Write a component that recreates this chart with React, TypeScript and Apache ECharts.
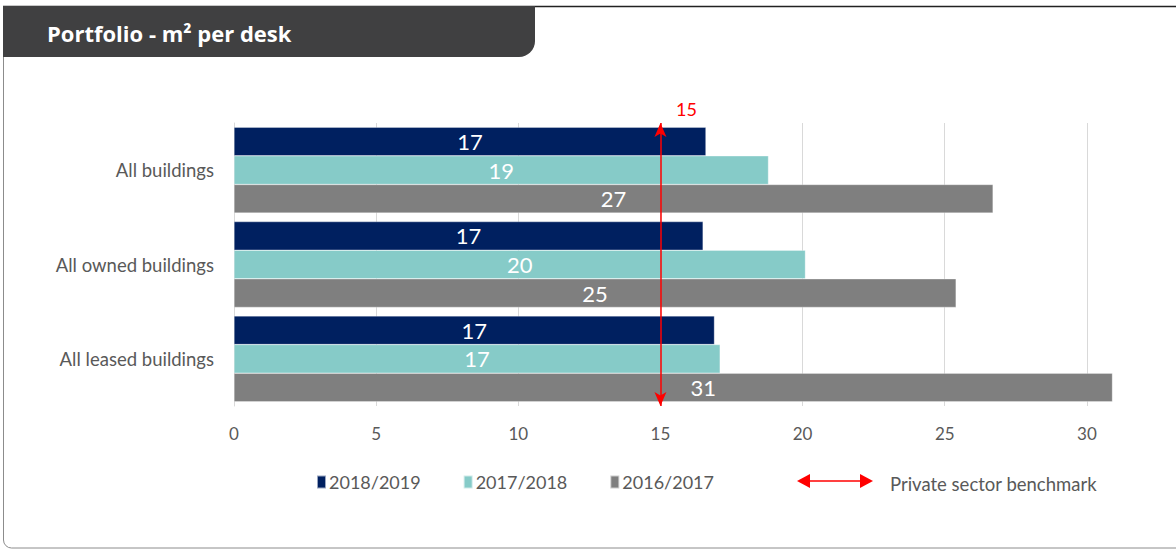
import React, { useEffect, useRef } from "react";
import * as echarts from "echarts";

const categories = ["All buildings", "All owned buildings", "All leased buildings"];
const seriesNames = ["2018/2019", "2017/2018", "2016/2017"];
const values2018_2019 = [16.6, 16.5, 16.9];
const values2017_2018 = [18.8, 20.1, 17.1];
const values2016_2017 = [26.7, 25.4, 30.9];
const seriesColors = ["#002060", "#86CBC8", "#7F7F7F"];
const benchmark = 15;
const title = "Portfolio - m\u00B2 per desk";
const benchmarkLabel = "Private sector benchmark";

const FONT = "Lato, 'Open Sans', sans-serif";

export default function App() {
  const ref = useRef<HTMLDivElement>(null);
  useEffect(() => {
    if (!ref.current) return;
    const chart = echarts.init(ref.current, undefined, { renderer: "svg" });
    const allValues = [values2018_2019, values2017_2018, values2016_2017];
    const series: any[] = allValues.map((vals, i) => ({
      name: seriesNames[i],
      type: "bar",
      data: vals.map((v, j) =>
        i === 2 && j === 2 ? { value: v, label: { offset: [30, 0] } } : v
      ),
      barGap: "0%",
      barCategoryGap: "9%",
      itemStyle: { color: seriesColors[i], borderColor: "rgba(255,255,255,0.6)", borderWidth: 0.5 },
      label: {
        show: true,
        position: "inside",
        color: "#fff",
        fontSize: 22,
        fontFamily: FONT,
        formatter: (p: any) => String(Math.round(p.value)),
      },
    }));
    series[0].markLine = {
      silent: true,
      z: 10,
      symbol: ["arrow", "arrow"],
      symbolSize: [9, 14],
      lineStyle: { color: "#FF0000", width: 1.5, type: "solid" },
      label: {
        show: true,
        position: "start",
        formatter: String(benchmark),
        color: "#FF0000",
        fontSize: 18,
        fontFamily: FONT,
        offset: [26, 0],
      },
      data: [{ xAxis: benchmark }],
    };
    chart.setOption({
      animation: false,
      textStyle: { fontFamily: FONT },
      grid: { left: 234, right: 55, top: 123, height: 283 },
      xAxis: {
        type: "value",
        min: 0,
        max: 31.2,
        interval: 5,
        axisLine: { show: false },
        axisTick: { show: false },
        splitLine: { show: true, showMaxLine: false, lineStyle: { color: "#D9D9D9", width: 1 } },
        axisLabel: {
          color: "#595959",
          fontSize: 17,
          fontFamily: FONT,
          margin: 19,
          showMaxLabel: false,
          formatter: (v: number) => (v % 5 === 0 ? String(v) : ""),
        },
      },
      yAxis: {
        type: "category",
        data: categories,
        inverse: true,
        axisLine: { show: true, lineStyle: { color: "#D9D9D9" } },
        axisTick: { show: false },
        axisLabel: { color: "#595959", fontSize: 18.5, fontFamily: FONT, margin: 20 },
      },
      legend: {
        left: 311,
        top: 468,
        itemWidth: 9,
        itemHeight: 13,
        itemGap: 42,
        icon: "rect",
        textStyle: { color: "#595959", fontSize: 18, fontFamily: FONT, padding: [0, 0, 0, -2] },
        data: seriesNames,
        selectedMode: false,
      },
      graphic: [
        {
          type: "rect",
          shape: { x: 3.5, y: 6.5, width: 1250, height: 541.5, r: [0, 0, 0, 8] },
          style: { fill: "none", stroke: "#8C8C8C", lineWidth: 1 },
        },
        {
          type: "line",
          shape: { x1: 3, y1: 6.5, x2: 1176, y2: 6.5 },
          style: { stroke: "#222222", lineWidth: 1.5 },
        },
        {
          type: "rect",
          shape: { x: 3, y: 6, width: 532, height: 51, r: [0, 0, 16, 0] },
          style: { fill: "#404041" },
        },
        {
          type: "text",
          x: 47,
          y: 33,
          style: {
            text: title,
            fill: "#FFFFFF",
            font: "bold 22px 'Open Sans', Lato, sans-serif",
            textVerticalAlign: "middle",
          },
        },
        {
          type: "line",
          shape: { x1: 808, y1: 481, x2: 862, y2: 481 },
          style: { stroke: "#FF0000", lineWidth: 1.5 },
        },
        {
          type: "polygon",
          shape: { points: [[797, 481], [810, 474], [810, 488]] },
          style: { fill: "#FF0000" },
        },
        {
          type: "polygon",
          shape: { points: [[873, 481], [860, 474], [860, 488]] },
          style: { fill: "#FF0000" },
        },
        {
          type: "text",
          x: 890,
          y: 484,
          style: {
            text: benchmarkLabel,
            fill: "#595959",
            font: "18.5px Lato, 'Open Sans', sans-serif",
            textVerticalAlign: "middle",
          },
        },
      ],
      series,
    });
    return () => chart.dispose();
  }, []);
  return (
    <div
      ref={ref}
      style={{ position: "absolute", left: 0, top: 0, width: 1176, height: 551, background: "#fff" }}
    />
  );
}
